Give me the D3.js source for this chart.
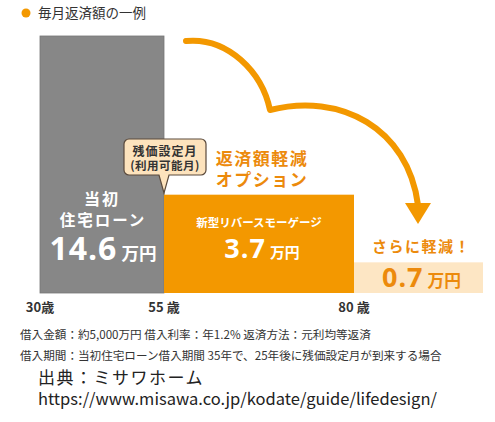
<!DOCTYPE html>
<html>
<head>
<meta charset="utf-8">
<script src="https://cdn.jsdelivr.net/npm/d3@7"></script>
<style>
  body { margin: 0; background: #fff; }
  text { font-family: "Noto Sans CJK JP", "Noto Sans", sans-serif; }
</style>
</head>
<body>
<div id="chart"></div>
<script>
'use strict';

// 月々の返済額（万円）
var stageNames = ["当初住宅ローン", "新型リバースモーゲージ", "さらに軽減！"];
var payments = [14.6, 3.7, 0.7];
var ageTicks = ["30歳", "55 歳", "80 歳"];
var footNotes = [
	"借入金額：約5,000万円 借入利率：年1.2% 返済方法：元利均等返済",
	"借入期間：当初住宅ローン借入期間 35年で、25年後に残価設定月が到来する場合"
];
var sourceLines = ["出典：ミサワホーム", "https://www.misawa.co.jp/kodate/guide/lifedesign/"];

var W = 495, H = 422;
var ORANGE = "#f39800", ORANGE_TEXT = "#ec8a0c", GRAY = "#878787", PALE = "#fde6c4";

var svg = d3.select("#chart").append("svg")
		.attr("width", W)
		.attr("height", H);

// 横軸: 区間の境目（0,1,2,3）を画面上の位置へ。区間ごとに幅が違う。
var x = d3.scaleLinear()
		.domain([0, 1, 2, 3])
		.range([40, 164, 354, 483]);

// 縦軸: 元の図は比例していないので、べき乗スケールで近づける。
var y = d3.scalePow().exponent(0.7)
		.domain([0, d3.max(payments)])
		.range([293, 36]);

var fills = [GRAY, ORANGE, PALE];

// 凡例
svg.append("circle")
		.attr("cx", 26).attr("cy", 13).attr("r", 4.5)
		.attr("fill", ORANGE);
svg.append("text")
		.attr("x", 38).attr("y", 18)
		.attr("font-size", 13.5)
		.attr("fill", "#333")
		.text("毎月返済額の一例");

// 棒
svg.selectAll("rect.bar").data(payments)
		.enter().append("rect")
		.attr("class", "bar")
		.attr("x", function(d, i) { return x(i); })
		.attr("width", function(d, i) { return x(i + 1) - x(i); })
		.attr("y", function(d) { return y(d); })
		.attr("height", function(d) { return y(0) - y(d); })
		.attr("fill", function(d, i) { return fills[i]; })
		.attr("stroke", function(d, i) { return i === 0 ? "#767676" : "none"; })
		.attr("stroke-width", 0.8);

// 年齢ラベル
svg.selectAll("text.age").data(ageTicks)
		.enter().append("text")
		.attr("class", "age")
		.attr("x", function(d, i) { return x(i); })
		.attr("y", 312)
		.attr("text-anchor", "middle")
		.attr("font-size", 13)
		.attr("font-weight", "bold")
		.attr("fill", "#333")
		.text(function(d) { return d; });

// 当初住宅ローン
var cx0 = (x(0) + x(1)) / 2;
svg.append("text")
		.attr("x", cx0).attr("y", 205)
		.attr("text-anchor", "middle")
		.attr("font-size", 16).attr("font-weight", "bold")
		.attr("letter-spacing", 2)
		.attr("fill", "#fff")
		.text(stageNames[0].slice(0, 2));
svg.append("text")
		.attr("x", cx0 + 1).attr("y", 226)
		.attr("text-anchor", "middle")
		.attr("font-size", 15.5).attr("font-weight", "bold")
		.attr("letter-spacing", 2)
		.attr("fill", "#fff")
		.text(stageNames[0].slice(2));

function amount(cx, yy, v, size, color, unitScale) {
	var t = svg.append("text")
			.attr("x", cx).attr("y", yy)
			.attr("text-anchor", "middle")
			.attr("font-weight", "bold")
			.attr("fill", color);
	t.append("tspan")
			.attr("font-size", size)
			.attr("font-family", "'Open Sans', 'Noto Sans', sans-serif")
			.attr("letter-spacing", 1)
			.text(v.toFixed(1));
	t.append("tspan")
			.attr("dx", 4)
			.attr("font-size", size * (unitScale || 0.55))
			.text("万円");
}

amount(cx0 + 1, 260, payments[0], 32, "#fff");

// 新型リバースモーゲージ
var cx1 = (x(1) + x(2)) / 2;
svg.append("text")
		.attr("x", cx1).attr("y", 227)
		.attr("text-anchor", "middle")
		.attr("font-size", 11.5).attr("font-weight", "bold")
		.attr("fill", "#fff")
		.text(stageNames[1]);
amount(cx1 + 3, 258, payments[1], 27, "#fff");

// さらに軽減！
var cx2 = (x(2) + x(3)) / 2;
svg.append("text")
		.attr("x", cx2 + 3).attr("y", 252)
		.attr("text-anchor", "middle")
		.attr("font-size", 15).attr("font-weight", "bold")
		.attr("letter-spacing", 1.5)
		.attr("fill", ORANGE_TEXT)
		.text(stageNames[2]);
amount(cx2 + 3, 287, payments[2], 27, ORANGE_TEXT, 0.62);

// 返済額軽減オプション
svg.append("text")
		.attr("x", 262).attr("y", 165)
		.attr("text-anchor", "middle")
		.attr("font-size", 17).attr("font-weight", "bold")
		.attr("letter-spacing", 1.5)
		.attr("fill", ORANGE_TEXT)
		.text("返済額軽減");
svg.append("text")
		.attr("x", 262).attr("y", 186)
		.attr("text-anchor", "middle")
		.attr("font-size", 17).attr("font-weight", "bold")
		.attr("letter-spacing", 1.5)
		.attr("fill", ORANGE_TEXT)
		.text("オプション");

// 吹き出し（残価設定月）
var bx = x(1), bTop = 139, bBot = 175, bL = 124, bR = 206, r = 5;
var p = d3.path();
p.moveTo(bL + r, bTop);
p.lineTo(bR - r, bTop);
p.arcTo(bR, bTop, bR, bTop + r, r);
p.lineTo(bR, bBot - r);
p.arcTo(bR, bBot, bR - r, bBot, r);
p.lineTo(bx + 5, bBot);
p.lineTo(bx, 193);
p.lineTo(bx - 5, bBot);
p.lineTo(bL + r, bBot);
p.arcTo(bL, bBot, bL, bBot - r, r);
p.lineTo(bL, bTop + r);
p.arcTo(bL, bTop, bL + r, bTop, r);
p.closePath();
svg.append("path")
		.attr("d", p.toString())
		.attr("fill", "#fde3bd")
		.attr("stroke", "#5b4a3c")
		.attr("stroke-width", 1.2);
svg.append("text")
		.attr("x", bx + 1).attr("y", 156)
		.attr("text-anchor", "middle")
		.attr("font-size", 12).attr("font-weight", "bold")
		.attr("letter-spacing", 1)
		.attr("fill", "#333")
		.text("残価設定月");
svg.append("text")
		.attr("x", bx + 1).attr("y", 170)
		.attr("text-anchor", "middle")
		.attr("font-size", 11.5).attr("font-weight", "bold")
		.attr("letter-spacing", 0.5)
		.attr("fill", "#333")
		.text("(利用可能月)");

// 矢印
var a = d3.path();
a.moveTo(186, 41);
a.bezierCurveTo(228, 37, 262, 72, 270, 110);
a.bezierCurveTo(340, 92, 408, 128, 418, 205);
svg.append("path")
		.attr("d", a.toString())
		.attr("fill", "none")
		.attr("stroke", ORANGE)
		.attr("stroke-width", 6)
		.attr("stroke-linecap", "round")
		.attr("stroke-linejoin", "round");
svg.append("path")
		.attr("d", "M405,203 L431,203 L418,224 Z")
		.attr("fill", ORANGE);

// 注記
svg.selectAll("text.note").data(footNotes)
		.enter().append("text")
		.attr("class", "note")
		.attr("x", 20)
		.attr("y", function(d, i) { return 339 + i * 21; })
		.attr("font-size", 11.6)
		.attr("fill", "#333")
		.text(function(d) { return d; });

svg.selectAll("text.src").data(sourceLines)
		.enter().append("text")
		.attr("class", "src")
		.attr("x", 38)
		.attr("y", function(d, i) { return 384 + i * 21; })
		.attr("font-size", function(d, i) { return i === 0 ? 17 : 16.5; })
		.attr("letter-spacing", function(d, i) { return i === 0 ? 1.5 : 0; })
		.attr("font-family", function(d, i) { return i === 0 ? "'Noto Sans CJK JP', sans-serif" : "'DejaVu Sans', sans-serif"; })
		.attr("fill", "#222")
		.text(function(d) { return d; });
</script>
</body>
</html>
